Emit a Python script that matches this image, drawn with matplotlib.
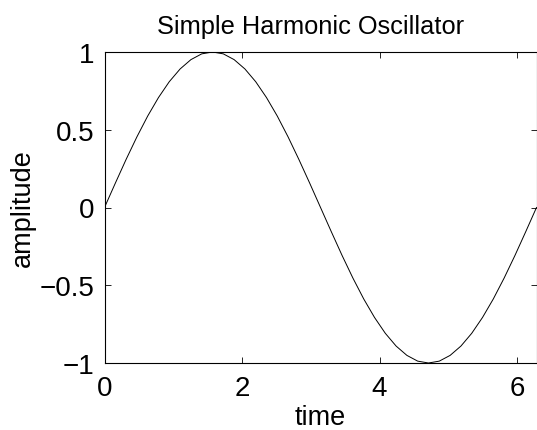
import matplotlib
matplotlib.use("Agg")
import matplotlib.pyplot as plt

# =========================================================
# Data (time vs. amplitude)
# =========================================================

time = [0.000, 0.157, 0.314, 0.471, 0.628, 0.785, 0.942, 1.100, 1.257, 1.414,
        1.571, 1.728, 1.885, 2.042, 2.199, 2.356, 2.513, 2.670, 2.827, 2.985,
        3.142, 3.299, 3.456, 3.613, 3.770, 3.927, 4.084, 4.241, 4.398, 4.555,
        4.712, 4.869, 5.027, 5.184, 5.341, 5.498, 5.655, 5.812, 5.969, 6.126,
        6.283]

amplitude = [0.000, 0.156, 0.309, 0.454, 0.588, 0.707, 0.809, 0.891, 0.951, 0.988,
             1.000, 0.988, 0.951, 0.891, 0.809, 0.707, 0.588, 0.454, 0.309, 0.156,
             0.000, -0.156, -0.309, -0.454, -0.588, -0.707, -0.809, -0.891, -0.951, -0.988,
             -1.000, -0.988, -0.951, -0.891, -0.809, -0.707, -0.588, -0.454, -0.309, -0.156,
             0.000]

x_ticks = [0, 2, 4, 6]
y_ticks = [-1, -0.5, 0, 0.5, 1]
y_tick_labels = ["\u22121", "\u22120.5", "0", "0.5", "1"]

# =========================================================
# Plot
# =========================================================

plt.rcParams["font.family"] = ["Liberation Sans", "DejaVu Sans"]

fig = plt.figure(figsize=(5.37, 4.31), dpi=100)
ax = fig.add_axes([104.5 / 537, 1 - 364 / 431, 432 / 537, 311 / 431])

ax.plot(time, amplitude, color="black", linewidth=0.7)

ax.set_xlim(0, 6.283)
ax.set_ylim(-1, 1)
ax.set_xticks(x_ticks)
ax.set_yticks(y_ticks)
ax.set_yticklabels(y_tick_labels)

ax.tick_params(direction="in", length=4, width=0.6, top=True, right=True,
               labelsize=20)
ax.tick_params(axis="x", pad=9)
ax.tick_params(axis="y", pad=7)
for spine in ax.spines.values():
    spine.set_linewidth(0.8)

ax.set_xlabel("time", fontsize=19.5, labelpad=2)
ax.set_ylabel("amplitude", fontsize=19.5, labelpad=3)
ax.set_title("Simple Harmonic Oscillator", fontsize=18.3, pad=14, x=0.476)

fig.savefig("out.png", dpi=100)
